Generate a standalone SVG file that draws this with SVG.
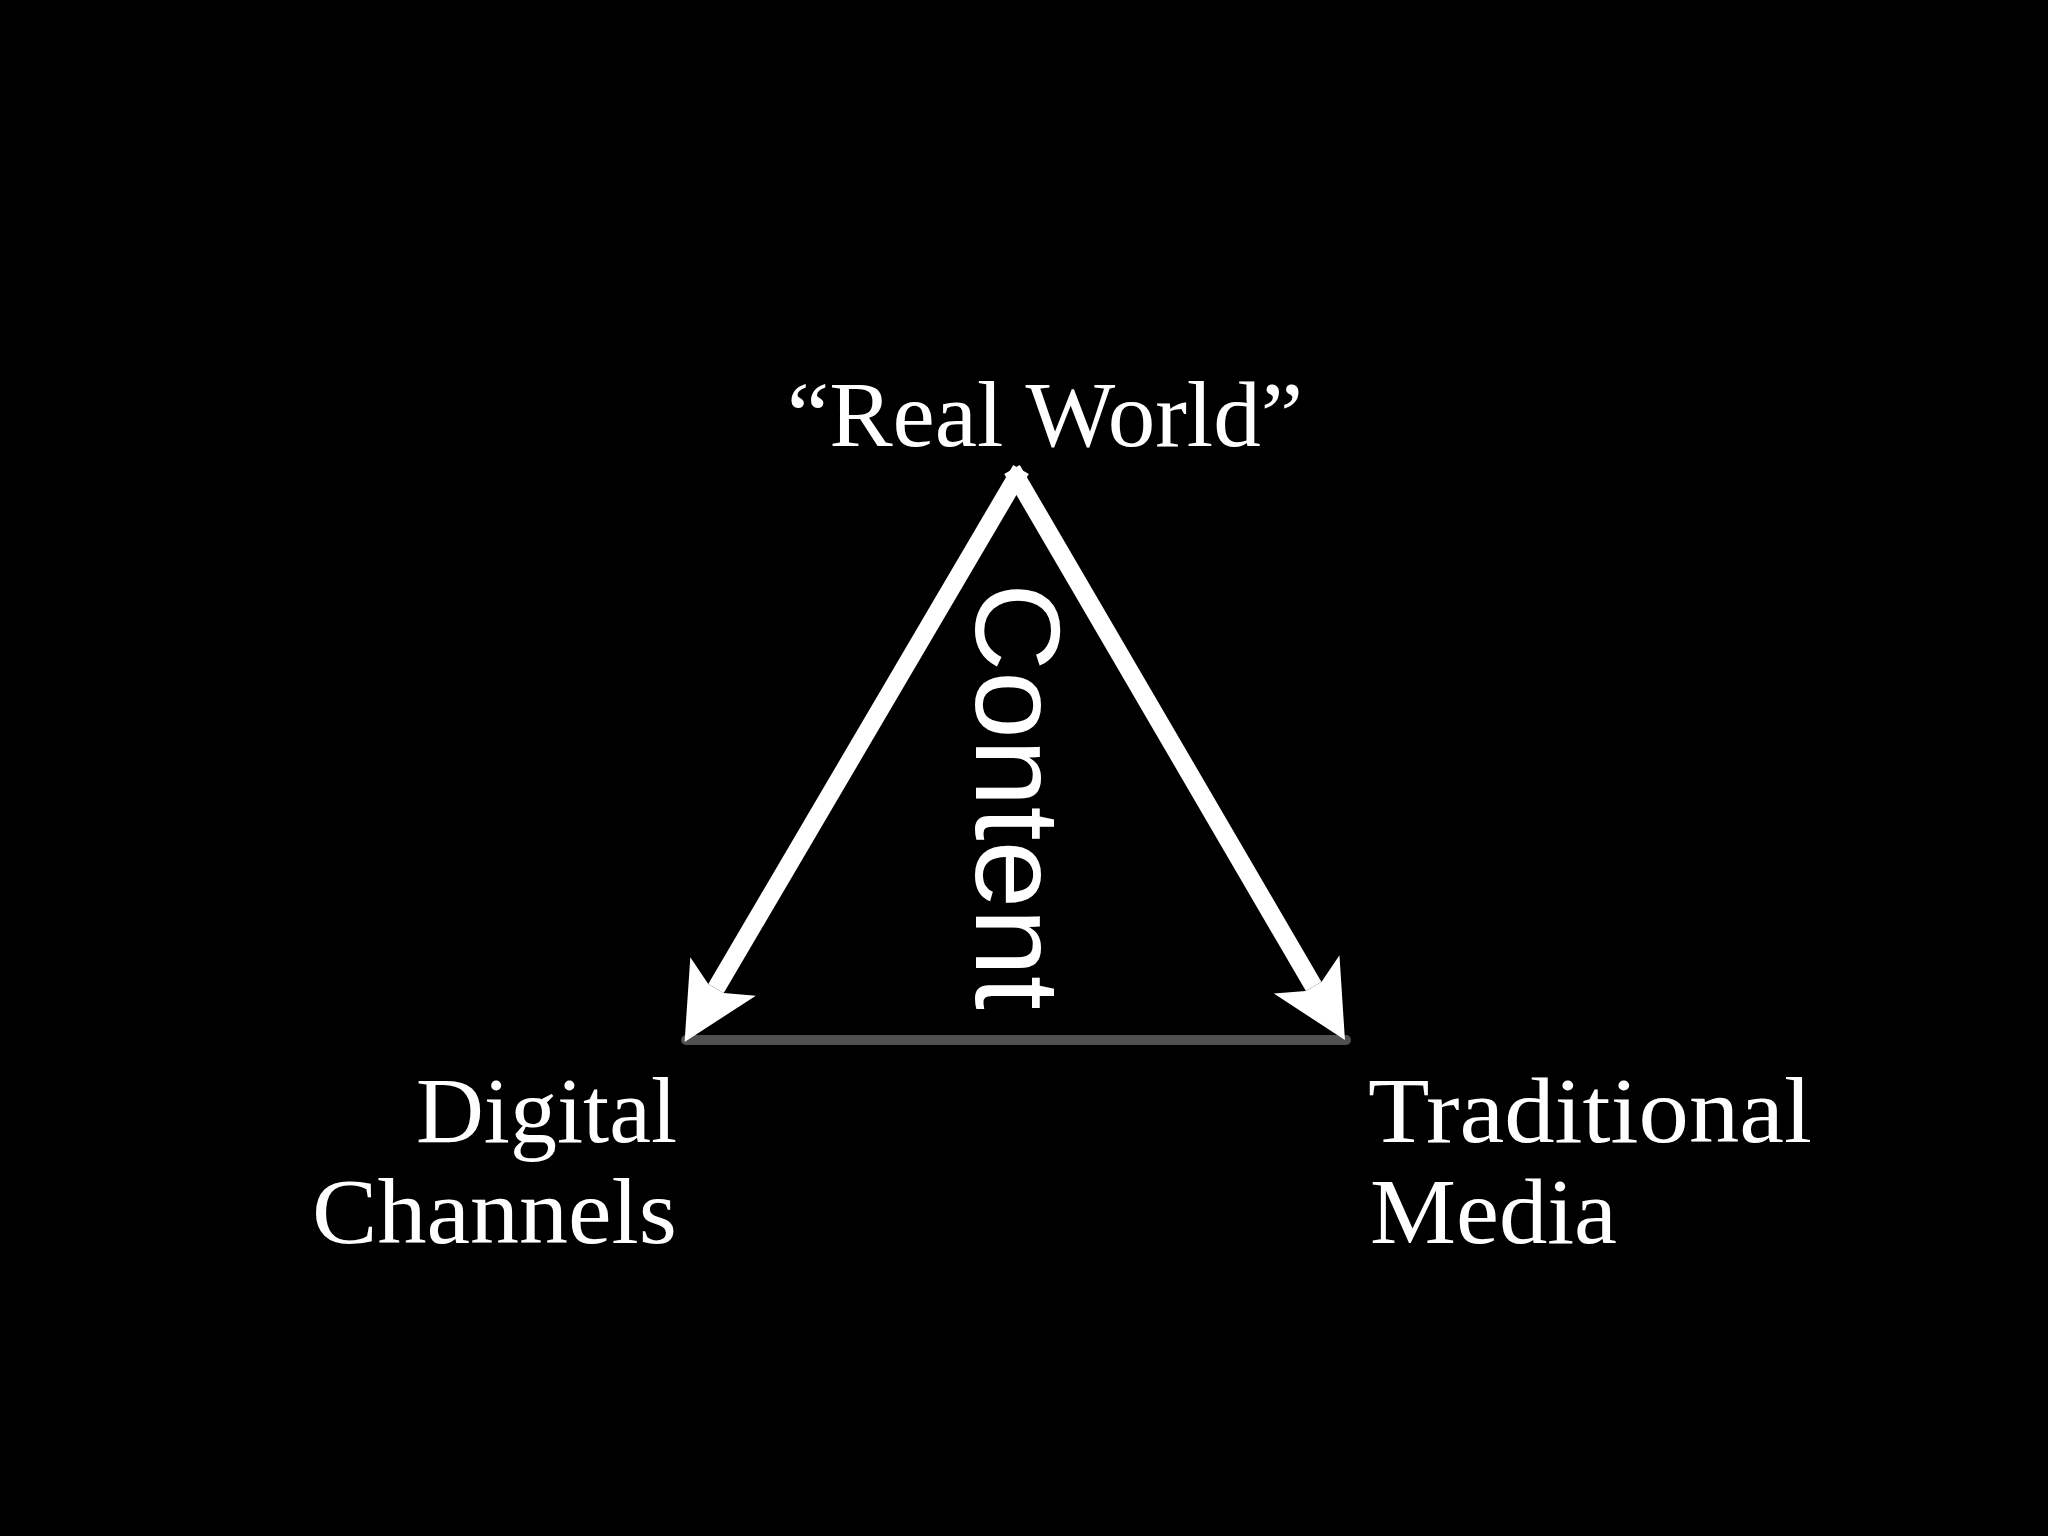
<svg xmlns="http://www.w3.org/2000/svg" width="2048" height="1536" viewBox="0 0 2048 1536">
  <style>
    .serif { font-family: "Liberation Serif", "Times New Roman", serif; fill: #ffffff; font-size: 94px; }
    .sans { font-family: "Liberation Sans", Arial, sans-serif; fill: #ffffff; font-size: 120px; }
    .arm { stroke: #ffffff; stroke-width: 18; fill: none; stroke-linecap: butt; }
  </style>
  <defs>
    <marker id="head" markerUnits="userSpaceOnUse" orient="auto" refX="0" refY="0" markerWidth="200" markerHeight="200" overflow="visible">
      <path d="M62,0 L-14,-38 L0,-9 L0,9 L-14,38 Z" fill="#ffffff"/>
    </marker>
  </defs>
  <rect x="0" y="0" width="2048" height="1536" fill="#000000"/>

  <g id="connectors">
    <line x1="686" y1="1040" x2="1346" y2="1040" stroke="#505050" stroke-width="10" stroke-linecap="round"/>
    <line class="arm" x1="1021" y1="469.5" x2="716" y2="988.5" marker-end="url(#head)"/>
    <line class="arm" x1="1012" y1="469.5" x2="1313.7" y2="986.5" marker-end="url(#head)"/>
  </g>

  <g id="node-real-world">
    <text class="serif" x="1045" y="446" text-anchor="middle" font-size="90" textLength="516" lengthAdjust="spacingAndGlyphs">“Real World”</text>
  </g>

  <g id="node-content">
    <text class="sans" transform="translate(976,583) rotate(90)" x="0" y="0" textLength="427" lengthAdjust="spacingAndGlyphs">Content</text>
  </g>

  <g id="node-digital-channels">
    <text class="serif" x="677" y="1142" text-anchor="end">Digital</text>
    <text class="serif" x="677" y="1243" text-anchor="end" textLength="365" lengthAdjust="spacingAndGlyphs">Channels</text>
  </g>

  <g id="node-traditional-media">
    <text class="serif" x="1368" y="1142" textLength="444" lengthAdjust="spacingAndGlyphs">Traditional</text>
    <text class="serif" x="1370" y="1243" textLength="247" lengthAdjust="spacingAndGlyphs">Media</text>
  </g>
</svg>
